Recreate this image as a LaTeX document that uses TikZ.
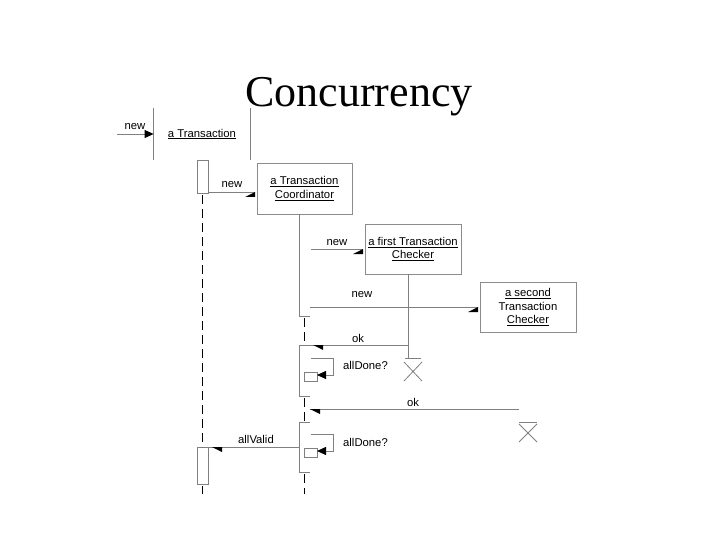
\documentclass[tikz,border=0pt]{standalone}
\usepackage{fontspec}
\setmainfont{Liberation Sans}
\newfontfamily\titlefont{Liberation Serif}
\usetikzlibrary{arrows.meta}
\newcommand\headR[1]{\fill[black] ([shift={(-10,5)}]#1) -- (#1) -- ([shift={(0,5)}]#1) -- cycle;}
\newcommand\headL[1]{\fill[black] (#1) -- ([shift={(10,0)}]#1) -- ([shift={(10,5)}]#1) -- cycle;}
\begin{document}
\begin{tikzpicture}[x=1pt,y=-1pt,
  ln/.style={draw=black!50, line width=0.8pt},
  obj/.style={draw=black!45, line width=0.8pt, minimum width=96pt, minimum height=50pt, align=center, inner sep=0pt, font=\fontsize{11.3}{13.5}\selectfont},
  lbl/.style={font=\fontsize{11.3}{13}\selectfont, inner sep=0pt, anchor=base},
  act/.style={draw=black!50, line width=0.8pt, inner sep=0pt, outer sep=0pt},
  life/.style={draw=black, line width=1.3pt, dash pattern=on 9pt off 5pt},
  fullarr/.style={-{Triangle[length=9pt,width=8pt,color=black]}},
]
\useasboundingbox (0,0) rectangle (720,540);

% title
\node[anchor=base, inner sep=0pt, font=\titlefont\fontsize{44}{50}\selectfont] (title) at (359,107) {Concurrency};

% objects
\node[obj, draw=none, minimum height=52pt] (tr) at (202,134) {\underline{a Transaction}};
\draw[ln] (tr.north west) -- (tr.south west);
\draw[ln] (tr.north east) -- (tr.south east);
\node[obj, minimum width=95pt, minimum height=51pt] (co) at (304.5,188.5) {\underline{a Transaction}\\\underline{Coordinator}};
\node[obj] (c1) at (413,249) {\underline{a first Transaction}\\\underline{Checker}};
\node[obj] (c2) at (528,307) {\underline{a second}\\Transaction\\\underline{Checker}};

% a Transaction lifeline
\node[act, minimum width=11pt, minimum height=33pt] (a1) at (202.5,176.5) {};
\node[act, minimum width=11pt, minimum height=37pt] (a2) at (202.5,465.5) {};
\draw[life] ([yshift=-2pt]a1.south) -- (a2.north);
\coordinate (trEnd) at (202.5,494);
\draw[life] ([yshift=-2pt]a2.south) -- (trEnd);

% creation of a Transaction
\coordinate (n0) at (117,134);
\node[lbl] (lnew0) at (135,130) {new};
\draw[ln, fullarr] (n0) -- (tr.west);

% new coordinator
\coordinate (n1s) at (208,192);
\coordinate (n1t) at (255,192);
\node[lbl] (lnew1) at (232,188) {new};
\draw[ln] (n1s) -- (n1t);
\headR{n1t}

% coordinator activations and lifeline
\coordinate (cA1top) at (299,214);
\coordinate (cA1bot) at (299,316);
\coordinate (cA1stub) at (310,316);
\draw[ln] (cA1top) -- (cA1bot) -- (cA1stub);
\coordinate (cd1a) at (304.5,318);
\coordinate (cd1b) at (304.5,344);
\draw[life] (cd1a) -- (cd1b);

% new first checker
\coordinate (n2s) at (311,249);
\coordinate (n2t) at (363,249);
\node[lbl] (lnew2) at (337,245) {new};
\draw[ln] (n2s) -- (n2t);
\headR{n2t}

% new second checker
\coordinate (n3s) at (310,307);
\coordinate (n3t) at (478,307);
\node[lbl] (lnew3) at (362,297) {new};
\draw[ln] (n3s) -- (n3t);
\headR{n3t}

% first checker lifeline, ok, destruction
\coordinate (c1end) at (408,345);
\coordinate (c1bar) at (408,358);
\draw[ln] (c1.south -| c1end) -- (c1bar);
\coordinate (ok1t) at (313,345);
\node[lbl] (lok1) at (358,342) {ok};
\draw[ln] (c1end) -- (ok1t);
\headL{ok1t}
\draw[ln] (405,358) -- (421,358);
\draw[ln] (404,362) -- (422,381) (404,381) -- (422,362);

% second activation
\coordinate (cA2a) at (299,345);
\coordinate (cA2b) at (299,396);
\coordinate (cA2c) at (310,396);
\draw[ln] (ok1t) -- (cA2a) -- (cA2b) -- (cA2c);
\coordinate (cd2a) at (304.5,398);
\coordinate (cd2b) at (304.5,421);
\draw[life] (cd2a) -- (cd2b);

% first allDone? self call
\node[act, minimum width=13pt, minimum height=9pt] (s1) at (310.5,376.5) {};
\coordinate (l1a) at (311,358);
\coordinate (l1b) at (333,358);
\coordinate (l1c) at (333,375);
\draw[ln, fullarr] (l1a) -- (l1b) -- (l1c) -- (l1c -| s1.east);
\node[lbl, anchor=base west] (ld1) at (343,369) {allDone?};

% second ok and destruction
\coordinate (ok2s) at (519,409);
\coordinate (ok2t) at (310,409);
\node[lbl] (lok2) at (413,406) {ok};
\draw[ln] (ok2s) -- (ok2t);
\headL{ok2t}
\draw[ln] (519,422) -- (537,422);
\draw[ln] (519,424) -- (537,442) (519,442) -- (537,424);

% third activation
\coordinate (cA3a) at (310,422);
\coordinate (cA3b) at (299,422);
\coordinate (cA3c) at (299,472);
\coordinate (cA3d) at (310,472);
\draw[ln] (cA3a) -- (cA3b) -- (cA3c) -- (cA3d);
\coordinate (cd3a) at (304.5,474);
\coordinate (cd3b) at (304.5,494);
\draw[life] (cd3a) -- (cd3b);

% second allDone? self call
\node[act, minimum width=13pt, minimum height=9pt] (s2) at (310.5,452.5) {};
\coordinate (l2a) at (311,434);
\coordinate (l2b) at (333,434);
\coordinate (l2c) at (333,451);
\draw[ln, fullarr] (l2a) -- (l2b) -- (l2c) -- (l2c -| s2.east);
\node[lbl, anchor=base west] (ld2) at (343,446) {allDone?};

% allValid
\coordinate (avs) at (299,447);
\coordinate (avt) at (212,447);
\node[lbl] (lav) at (256,443) {allValid};
\draw[ln] (avs) -- (a2.north east);
\headL{avt}
\end{tikzpicture}
\end{document}
